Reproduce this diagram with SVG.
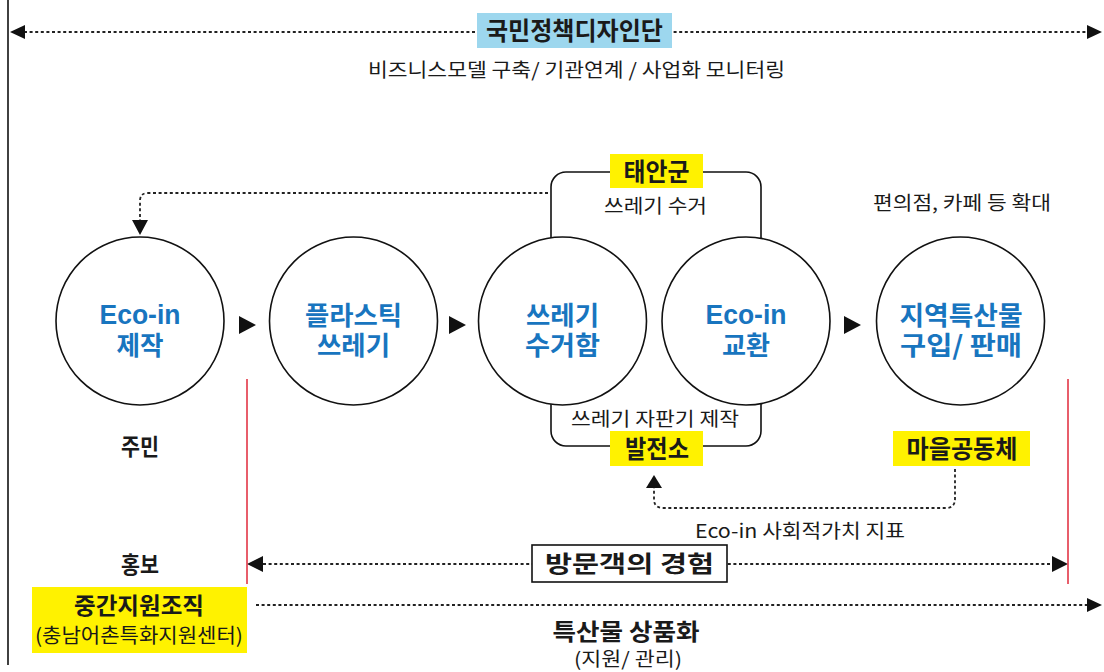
<svg xmlns="http://www.w3.org/2000/svg" width="1104" height="672" viewBox="0 0 1104 672">
<style>
text{font-family:"Noto Sans CJK KR","Noto Sans",sans-serif;text-anchor:middle;fill:#1a1a1a}
.b{font-weight:700}
.blue{fill:#1875bf;font-weight:700;font-size:26px}
.lat{font-family:"Liberation Sans","Noto Sans CJK KR",sans-serif;font-size:27px}
.circ{fill:#fff;stroke:#111;stroke-width:1.6}
.dot{fill:none;stroke:#222;stroke-width:1.8;stroke-dasharray:3 2.6}
.red{stroke:#e0283a;stroke-width:1.5}
.yel{fill:#fff200}
.tri{fill:#111}
</style>
<rect width="1104" height="672" fill="#fff"/>
<line x1="8" y1="0" x2="8" y2="665" stroke="#111" stroke-width="1.6"/>
<g id="connectors">
<rect x="551" y="172" width="210" height="274" rx="15" fill="none" stroke="#111" stroke-width="1.6"/>
<line class="dot" x1="24" y1="32" x2="1088" y2="32"/>
<polygon class="tri" points="10,32 25,25 25,39"/>
<polygon class="tri" points="1102,32 1087,25 1087,39"/>
<path class="dot" d="M548,193 H148 Q140,193 140,201 V220"/>
<polygon class="tri" points="132,220 148,220 140,235"/>
<path class="dot" d="M955,469 V499 Q955,508 946,508 H663 Q654,508 654,499 V487"/>
<polygon class="tri" points="646,488 662,488 654,475"/>
<line class="dot" x1="263" y1="564" x2="1052" y2="564"/>
<polygon class="tri" points="247,564 263,556 263,572"/>
<polygon class="tri" points="1068,564 1052,556 1052,572"/>
<line class="dot" x1="256" y1="605" x2="1088" y2="605"/>
<polygon class="tri" points="1102,605 1087,598 1087,612"/>
<polygon class="tri" points="239,316 256,325 239,334"/>
<polygon class="tri" points="449,316 466,325 449,334"/>
<polygon class="tri" points="844,316 861,325 844,334"/>
<line class="red" x1="247" y1="379" x2="247" y2="584"/>
<line class="red" x1="1068" y1="379" x2="1068" y2="584"/>
</g>
<g id="top-label">
<rect x="477" y="13" width="195" height="35" fill="#9dd7ee"/>
<text class="b" x="574.5" y="40" font-size="25" textLength="177" lengthAdjust="spacingAndGlyphs">국민정책디자인단</text>
<text x="576.5" y="77" font-size="19" textLength="417" lengthAdjust="spacingAndGlyphs">비즈니스모델 구축/ 기관연계 / 사업화 모니터링</text>
</g>
<g id="node-ecoin-make">
<circle class="circ" cx="140" cy="321" r="84"/>
<text class="blue lat" x="140" y="324" textLength="81" lengthAdjust="spacingAndGlyphs">Eco-in</text>
<text class="blue" x="140" y="355" textLength="47" lengthAdjust="spacingAndGlyphs">제작</text>
</g>
<g id="node-plastic">
<circle class="circ" cx="353.5" cy="321" r="84"/>
<text class="blue" x="353.5" y="325" textLength="97" lengthAdjust="spacingAndGlyphs">플라스틱</text>
<text class="blue" x="353.5" y="355" textLength="73" lengthAdjust="spacingAndGlyphs">쓰레기</text>
</g>
<g id="node-bin">
<circle class="circ" cx="562.5" cy="321" r="84"/>
<text class="blue" x="562.5" y="325" textLength="73" lengthAdjust="spacingAndGlyphs">쓰레기</text>
<text class="blue" x="562.5" y="355" textLength="75" lengthAdjust="spacingAndGlyphs">수거함</text>
</g>
<g id="node-ecoin-exchange">
<circle class="circ" cx="746" cy="321" r="84"/>
<text class="blue lat" x="746" y="324" textLength="81" lengthAdjust="spacingAndGlyphs">Eco-in</text>
<text class="blue" x="746" y="355" textLength="48" lengthAdjust="spacingAndGlyphs">교환</text>
</g>
<g id="node-local">
<circle class="circ" cx="960.5" cy="321" r="84"/>
<text class="blue" x="961" y="325" textLength="123" lengthAdjust="spacingAndGlyphs">지역특산물</text>
<text class="blue" x="961" y="355" textLength="122" lengthAdjust="spacingAndGlyphs">구입/ 판매</text>
</g>
<g id="taean">
<rect class="yel" x="610" y="154" width="93" height="34"/>
<text class="b" x="656.5" y="180.5" font-size="25" textLength="66" lengthAdjust="spacingAndGlyphs">태안군</text>
<text x="655.5" y="213" font-size="19" textLength="103" lengthAdjust="spacingAndGlyphs">쓰레기 수거</text>
</g>
<g id="plant">
<text x="655" y="426" font-size="19" textLength="168" lengthAdjust="spacingAndGlyphs">쓰레기 자판기 제작</text>
<rect class="yel" x="610" y="431" width="93" height="35"/>
<text class="b" x="657" y="458" font-size="25" textLength="64" lengthAdjust="spacingAndGlyphs">발전소</text>
</g>
<g id="village">
<rect class="yel" x="893" y="431" width="137" height="35"/>
<text class="b" x="962" y="458" font-size="25" textLength="111" lengthAdjust="spacingAndGlyphs">마을공동체</text>
</g>
<text x="962" y="210" font-size="19" textLength="178" lengthAdjust="spacingAndGlyphs">편의점, 카페 등 확대</text>
<text x="800" y="538" font-size="19" textLength="210" lengthAdjust="spacingAndGlyphs">Eco-in 사회적가치 지표</text>
<text class="b" x="140" y="455" font-size="23" textLength="38" lengthAdjust="spacingAndGlyphs">주민</text>
<text class="b" x="140" y="573" font-size="23" textLength="38" lengthAdjust="spacingAndGlyphs">홍보</text>
<g id="visitor">
<rect x="532" y="545" width="195" height="37" fill="#fff" stroke="#111" stroke-width="1.6"/>
<text class="b" x="629.5" y="572" font-size="23" textLength="169" lengthAdjust="spacingAndGlyphs">방문객의 경험</text>
</g>
<g id="support">
<rect class="yel" x="32" y="587" width="215" height="66"/>
<text class="b" x="139" y="614" font-size="23" textLength="130" lengthAdjust="spacingAndGlyphs">중간지원조직</text>
<text x="139" y="643" font-size="20" textLength="208" lengthAdjust="spacingAndGlyphs">(충남어촌특화지원센터)</text>
</g>
<text class="b" x="626" y="640" font-size="23" textLength="147" lengthAdjust="spacingAndGlyphs">특산물 상품화</text>
<text x="628" y="666" font-size="19" textLength="108" lengthAdjust="spacingAndGlyphs">(지원/ 관리)</text>
</svg>
